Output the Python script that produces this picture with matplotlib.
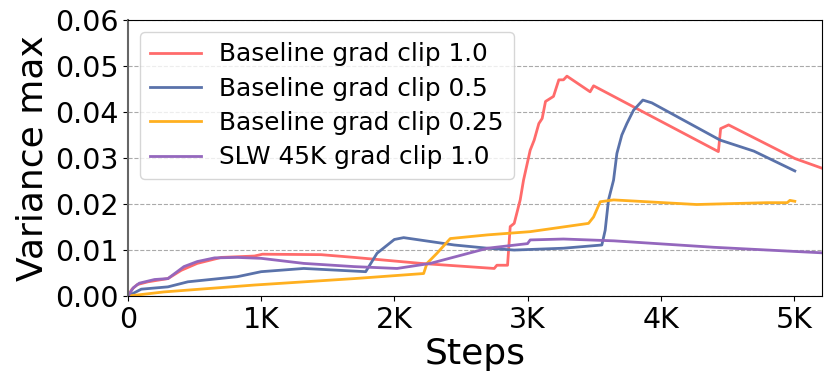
import matplotlib
matplotlib.use("Agg")
import matplotlib.pyplot as plt

# Data
red_x = [0, 30, 70, 150, 300, 400, 520, 700, 950, 1010, 1450, 1700, 2200, 2750, 2770, 2850, 2870, 2900,
         2945, 2970, 3020, 3050, 3085, 3110, 3135, 3195, 3235, 3270, 3296, 3470, 3496, 4433, 4450, 4510,
         5007, 5210]
red_y = [0, 0.0015, 0.0025, 0.0031, 0.0038, 0.0056, 0.0071, 0.0084, 0.0087, 0.0091, 0.0090, 0.0084,
         0.0071, 0.0060, 0.0067, 0.0067, 0.0151, 0.0158, 0.0209, 0.0252, 0.0317, 0.0339, 0.0375, 0.0386,
         0.0423, 0.0434, 0.0470, 0.0470, 0.0478, 0.0444, 0.0457, 0.0314, 0.0364, 0.0372, 0.0299, 0.0278]

blue_x = [0, 100, 300, 450, 820, 1000, 1320, 1785, 1870, 2000, 2070, 2450, 2700, 2900, 3270, 3558,
          3583, 3608, 3646, 3671, 3708, 3746, 3796, 3866, 3933, 4446, 4700, 5007]
blue_y = [0, 0.0015, 0.0020, 0.0031, 0.0042, 0.0053, 0.0060, 0.0053, 0.0093, 0.0123, 0.0127, 0.0111,
          0.0104, 0.0100, 0.0104, 0.0111, 0.0143, 0.0209, 0.0252, 0.0310, 0.0350, 0.0375, 0.0404, 0.0426,
          0.0420, 0.0339, 0.0315, 0.0272]

yellow_x = [0, 270, 950, 1700, 2220, 2245, 2320, 2420, 2700, 3020, 3458, 3496, 3546, 3646, 4270, 4800,
            4950, 4970, 5007]
yellow_y = [0, 0.0009, 0.0024, 0.0038, 0.0049, 0.0071, 0.0093, 0.0125, 0.0133, 0.0140, 0.0158, 0.0172,
            0.0205, 0.0209, 0.0199, 0.0203, 0.0203, 0.0208, 0.0206]

purple_x = [0, 40, 85, 200, 300, 420, 520, 650, 820, 1000, 1320, 1700, 2020, 2270, 2700, 3000, 3020,
            3270, 3650, 4400, 5210]
purple_y = [0, 0.0018, 0.0028, 0.0036, 0.0038, 0.0064, 0.0075, 0.0083, 0.0084, 0.0082, 0.0071, 0.0064,
            0.0060, 0.0071, 0.0104, 0.0114, 0.0122, 0.0124, 0.0120, 0.0106, 0.0094]

labels = ["Baseline grad clip 1.0", "Baseline grad clip 0.5",
          "Baseline grad clip 0.25", "SLW 45K grad clip 1.0"]
colors = ["#ff6b6b", "#5a72aa", "#ffb020", "#9467bd"]
xticks = [0, 1000, 2000, 3000, 4000, 5000]
xticklabels = ["0", "1K", "2K", "3K", "4K", "5K"]
yticks = [0.0, 0.01, 0.02, 0.03, 0.04, 0.05, 0.06]

fig = plt.figure(figsize=(8.31, 3.85), dpi=100)
ax = fig.add_axes([0.154, 0.231, 0.835, 0.717])

series = [(red_x, red_y), (blue_x, blue_y), (yellow_x, yellow_y), (purple_x, purple_y)]
for (xs, ys), lab, c in zip(series, labels, colors):
    ax.plot(xs, ys, color=c, lw=2, label=lab)

ax.set_xlim(0, 5210)
ax.set_ylim(0, 0.06)
ax.set_xticks(xticks)
ax.set_xticklabels(xticklabels)
ax.set_yticks(yticks)
ax.set_yticklabels([f"{v:.2f}" for v in yticks])
ax.tick_params(axis="both", labelsize=20.5)
ax.yaxis.grid(True, linestyle="--", color="#aaaaaa", lw=0.8)
ax.set_axisbelow(True)
ax.spines["left"].set_color("#666666")
ax.spines["left"].set_linewidth(1.5)
ax.set_xlabel("Steps", fontsize=26, labelpad=2)
ax.set_ylabel("Variance max", fontsize=26)
ax.legend(loc="upper left", fontsize=17.8, handlelength=2.05, handletextpad=0.75,
          labelspacing=0.42, borderpad=0.4)

fig.savefig("out.png", dpi=100)
